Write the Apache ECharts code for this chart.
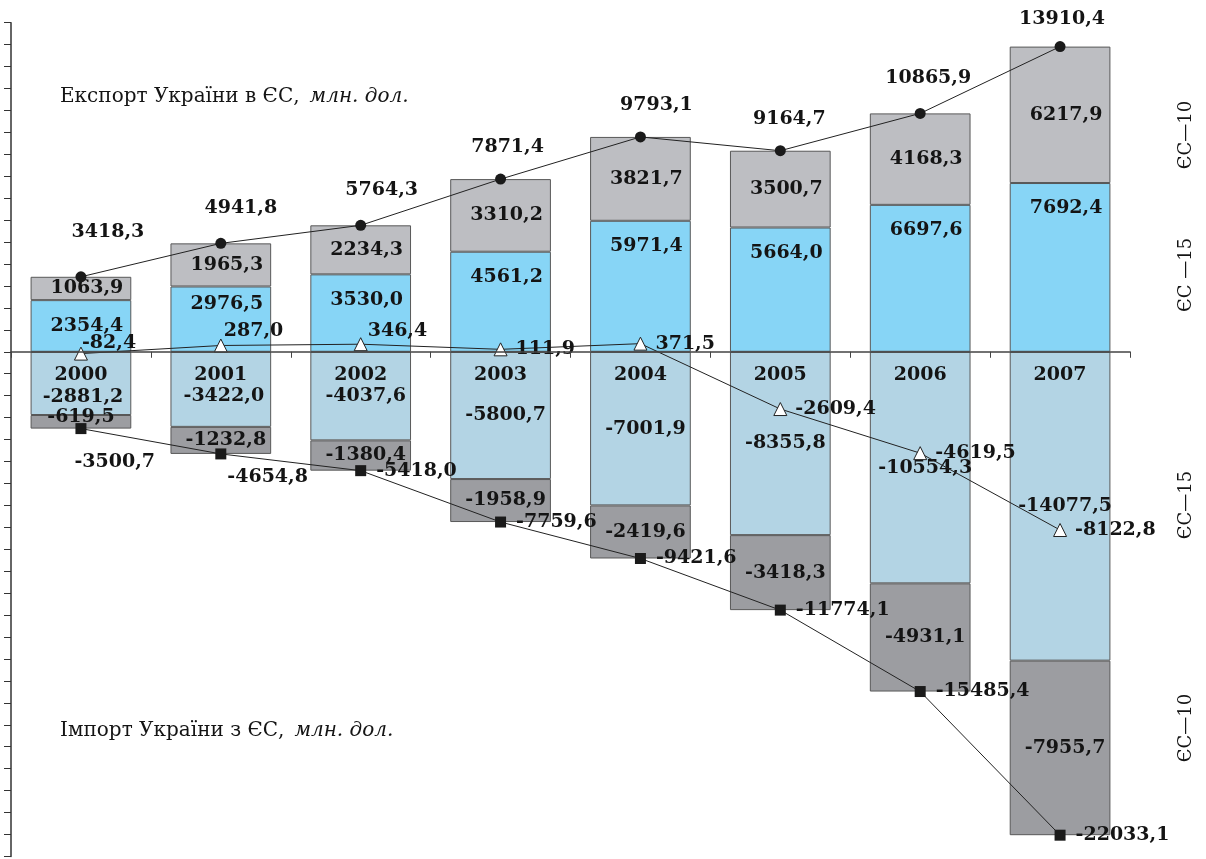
<!DOCTYPE html>
<html>
<head>
<meta charset="utf-8">
<script src="https://cdn.jsdelivr.net/npm/echarts@6/dist/echarts.min.js"></script>
<style>html,body{margin:0;padding:0;background:#fff;}#c{width:1206px;height:859px;}</style>
</head>
<body>
<div id="c"></div>
<script>
const years = ['2000','2001','2002','2003','2004','2005','2006','2007'];
const exportEU15 = [2354.4, 2976.5, 3530.0, 4561.2, 5971.4, 5664.0, 6697.6, 7692.4];
const exportEU10 = [1063.9, 1965.3, 2234.3, 3310.2, 3821.7, 3500.7, 4168.3, 6217.9];
const exportTotal = [3418.3, 4941.8, 5764.3, 7871.4, 9793.1, 9164.7, 10865.9, 13910.4];
const importEU15 = [-2881.2, -3422.0, -4037.6, -5800.7, -7001.9, -8355.8, -10554.3, -14077.5];
const importEU10 = [-619.5, -1232.8, -1380.4, -1958.9, -2419.6, -3418.3, -4931.1, -7955.7];
const importTotal = [-3500.7, -4654.8, -5418.0, -7759.6, -9421.6, -11774.1, -15485.4, -22033.1];
const balance = [-82.4, 287.0, 346.4, 111.9, 371.5, -2609.4, -4619.5, -8122.8];

const FONT = 'DejaVu Serif';
const fmt = v => Number(v).toFixed(1).replace('.', ',');
const lbl = (extra) => Object.assign({
  show: true, fontFamily: FONT, fontSize: 19, fontWeight: 'bold', color: '#141414',
  formatter: p => fmt(p.value)
}, extra);

function withOffsets(values, offsets) {
  return values.map((v, i) => offsets[i] ? { value: v, label: offsets[i] } : v);
}

const GRID_TOP = 22.7, GRID_BOTTOM = 2.6, H = 859;
const Y_MIN = -23000, Y_MAX = 15000;
const plotH = H - GRID_TOP - GRID_BOTTOM;
const zeroFromBottom = GRID_BOTTOM + plotH * (0 - Y_MIN) / (Y_MAX - Y_MIN);
const BORDER = '#585858';

const chart = echarts.init(document.getElementById('c'), null, { renderer: 'canvas' });
const option = {
  animation: false,
  backgroundColor: '#fff',
  grid: { left: 11, right: 76, top: GRID_TOP, bottom: GRID_BOTTOM, containLabel: false, outerBoundsMode: 'none' },
  xAxis: [{
    type: 'category', data: years, z: 10,
    axisLine: { onZero: true, lineStyle: { color: '#444', width: 1.5 } },
    axisTick: { show: true, length: 6, lineStyle: { color: '#444' } },
    axisLabel: { show: false },
    splitLine: { show: false }
  }, {
    type: 'category', data: years, z: 11, position: 'bottom', offset: -(zeroFromBottom - GRID_BOTTOM),
    axisLine: { show: false }, axisTick: { show: false }, splitLine: { show: false },
    axisLabel: { margin: 14, fontFamily: FONT, fontSize: 19, fontWeight: 'bold', color: '#141414' }
  }],
  yAxis: {
    type: 'value', min: Y_MIN, max: Y_MAX, interval: 1000,
    axisLine: { show: true, onZero: false, lineStyle: { color: '#333', width: 1.5 } },
    axisTick: { show: true, length: 7, lineStyle: { color: '#333' } },
    axisLabel: { show: false },
    splitLine: { show: false }
  },
  series: [
    { name: 'Експорт ЄС-15', type: 'bar', stack: 't', barWidth: '72%',
      data: withOffsets(exportEU15, { 1: { offset: [6, -8] } }),
      itemStyle: { color: '#87d5f6', borderColor: BORDER, borderWidth: 1 },
      label: lbl({ position: 'insideTop', distance: 16, offset: [6, 0] }) },
    { name: 'Експорт ЄС-10', type: 'bar', stack: 't', data: exportEU10,
      itemStyle: { color: '#bdbec2', borderColor: BORDER, borderWidth: 1 },
      label: lbl({ position: 'inside', offset: [6, 0] }) },
    { name: 'Імпорт ЄС-15', type: 'bar', stack: 't',
      data: withOffsets(importEU15, { 0: { offset: [2, 14] }, 1: { offset: [3, 7] } }),
      itemStyle: { color: '#b3d4e4', borderColor: BORDER, borderWidth: 1 },
      label: lbl({ position: 'inside', offset: [5, 0] }) },
    { name: 'Імпорт ЄС-10', type: 'bar', stack: 't',
      data: withOffsets(importEU10, { 0: { offset: [0, -5] } }),
      itemStyle: { color: '#9c9da1', borderColor: BORDER, borderWidth: 1 },
      label: lbl({ position: 'inside', offset: [5, 0] }) },
    { name: 'Експорт', type: 'line', z: 5,
      data: withOffsets(exportTotal, {
        0: { offset: [27, -13] }, 1: { offset: [20, -3] }, 2: { offset: [21, -3] }, 3: { offset: [7, 0] },
        4: { offset: [16, 0] }, 5: { offset: [9, 0] }, 6: { offset: [8, -3] }, 7: { offset: [2, 4] } }),
      symbol: 'circle', symbolSize: 11,
      lineStyle: { color: '#222', width: 1 }, itemStyle: { color: '#1a1a1a' },
      label: lbl({ position: 'top', distance: 17 }) },
    { name: 'Імпорт', type: 'line', z: 5,
      data: withOffsets(importTotal, { 0: { offset: [-22, 33] }, 1: { offset: [-9, 23] } }),
      symbol: 'rect', symbolSize: 11,
      lineStyle: { color: '#222', width: 1 }, itemStyle: { color: '#1a1a1a' },
      label: lbl({ position: 'right', distance: 10 }) },
    { name: 'Сальдо', type: 'line', z: 6,
      data: withOffsets(balance, { 0: { offset: [-14, -11] }, 1: { offset: [-12, -14] }, 2: { offset: [-8, -13] } }),
      symbol: 'triangle', symbolSize: 13,
      lineStyle: { color: '#222', width: 1 }, itemStyle: { color: '#fff', borderColor: '#222', borderWidth: 1 },
      label: lbl({ position: 'right', distance: 8 }) }
  ],
  graphic: [
    { type: 'text', left: 60, top: 87, z: 20, style: {
      text: '{n|Експорт України в ЄС,}   {i|млн. дол.}',
      rich: { n: { fontFamily: FONT, fontSize: 20, fill: '#141414' }, i: { fontFamily: FONT, fontSize: 20, fontStyle: 'italic', fill: '#141414' } } } },
    { type: 'text', left: 60, top: 721, z: 20, style: {
      text: '{n|Імпорт України з ЄС,}   {i|млн. дол.}',
      rich: { n: { fontFamily: FONT, fontSize: 20, fill: '#141414' }, i: { fontFamily: FONT, fontSize: 20, fontStyle: 'italic', fill: '#141414' } } } },
    { type: 'text', x: 1186, y: 135, rotation: Math.PI / 2, z: 20, style: { text: 'ЄС—10', align: 'center', verticalAlign: 'middle', fontFamily: FONT, fontSize: 18, fill: '#141414' } },
    { type: 'text', x: 1186, y: 275, rotation: Math.PI / 2, z: 20, style: { text: 'ЄС —15', align: 'center', verticalAlign: 'middle', fontFamily: FONT, fontSize: 18, fill: '#141414' } },
    { type: 'text', x: 1186, y: 505, rotation: Math.PI / 2, z: 20, style: { text: 'ЄС—15', align: 'center', verticalAlign: 'middle', fontFamily: FONT, fontSize: 18, fill: '#141414' } },
    { type: 'text', x: 1186, y: 728, rotation: Math.PI / 2, z: 20, style: { text: 'ЄС—10', align: 'center', verticalAlign: 'middle', fontFamily: FONT, fontSize: 18, fill: '#141414' } }
  ]
};
chart.setOption(option);
</script>
</body>
</html>
